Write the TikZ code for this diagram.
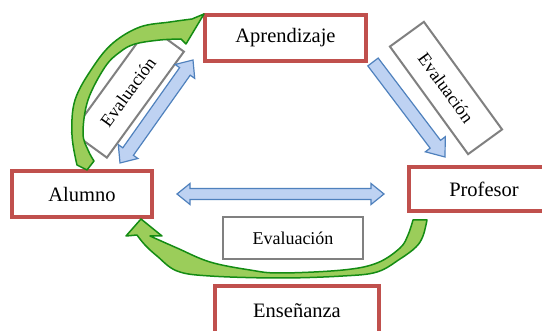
\documentclass[tikz,border=0pt]{standalone}
\usepackage{fontspec}
\setmainfont{Liberation Serif}
\newfontfamily\tnr{Liberation Serif}
\usetikzlibrary{calc}
\definecolor{boxred}{RGB}{192,80,77}
\definecolor{evgray}{RGB}{128,128,128}
\definecolor{bluefill}{RGB}{190,210,242}
\definecolor{blueline}{RGB}{79,129,189}
\definecolor{greenfill}{RGB}{155,205,90}
\definecolor{greenline}{RGB}{20,140,20}
\newcommand{\dblarrow}[5]{%
  \coordinate (nA) at ($(#1)!#5!(#2)$);
  \coordinate (nB) at ($(#2)!#5!(#1)$);
  \filldraw[bluearrow] (#1) -- ($(nA)!#4!90:(#2)$) -- ($(nA)!#3!90:(#2)$) -- ($(nB)!#3!-90:(#1)$) -- ($(nB)!#4!-90:(#1)$) -- (#2) -- ($(nB)!#4!90:(#1)$) -- ($(nB)!#3!90:(#1)$) -- ($(nA)!#3!-90:(#2)$) -- ($(nA)!#4!-90:(#2)$) -- cycle;
}
\newcommand{\sglarrow}[5]{%
  \coordinate (nB) at ($(#2)!#5!(#1)$);
  \filldraw[bluearrow] ($(#1)!#3!90:(#2)$) -- ($(nB)!#3!-90:(#1)$) -- ($(nB)!#4!-90:(#1)$) -- (#2) -- ($(nB)!#4!90:(#1)$) -- ($(nB)!#3!90:(#1)$) -- ($(#1)!#3!-90:(#2)$) -- cycle;
}
\begin{document}
\begin{tikzpicture}[x=1pt,y=-1pt,
  redbox/.style={draw=boxred, line width=3.6pt, fill=white, inner sep=0pt, font=\tnr\fontsize{20.5}{24}\selectfont},
  evbox/.style={draw=evgray, line width=2pt, fill=white, inner sep=0pt, font=\tnr\fontsize{18}{22}\selectfont},
  bluearrow/.style={fill=bluefill, draw=blueline, line width=1.2pt, line join=miter},
  greenarrow/.style={fill=greenfill, draw=greenline, line width=1.5pt, line join=round}]
\clip (0,0) rectangle (542,331);
\fill[white] (0,0) rectangle (542,331);

% gray evaluation boxes
\node[evbox, minimum width=131pt, minimum height=43pt, rotate=54] (ev1) at (128,92) {Evaluación};
\node[evbox, minimum width=133pt, minimum height=42pt, rotate=-54] (ev2) at (446,88) {Evaluación};
\node[evbox, minimum width=140pt, minimum height=42pt] (ev3) at (293,238) {Evaluación};

% red boxes
\node[redbox, minimum width=161pt, minimum height=46pt] (apr) at (285.5,38) {Aprendizaje\hspace{14pt}};
\node[redbox, minimum width=140pt, minimum height=46pt] (alu) at (82,194) {Alumno\hspace{27pt}};
\node[redbox, minimum width=150pt, minimum height=44pt] (pro) at (484,189) {Profesor\hspace{34pt}};
\node[redbox, minimum width=164pt, minimum height=50pt] (ens) at (297,311) {Enseñanza};

% blue arrows
\coordinate (b1s) at (120,163); \coordinate (b1e) at (193,60);
\dblarrow{b1s}{b1e}{6.5pt}{12pt}{14pt}
\coordinate (b2s) at (373,62); \coordinate (b2e) at (445,157);
\sglarrow{b2s}{b2e}{6.5pt}{12.5pt}{16pt}
\coordinate (b3s) at (177,194); \coordinate (b3e) at (384,194);
\dblarrow{b3s}{b3e}{5.5pt}{10.5pt}{13pt}

% green curved arrows
\filldraw[greenarrow] plot[smooth, tension=0.6] coordinates {(77,165) (72,135) (75,100) (93,67) (113,43) (140,27) (170,22) (192,19)}
  -- (204,14) -- (186,44) -- (181,39)
  -- plot[smooth, tension=0.6] coordinates {(181,39) (160,40) (135,44) (120,52) (105,67) (88,100) (83,133) (88,150) (94,161)}
  -- (87,170) -- cycle;

\filldraw[greenarrow] plot[smooth, tension=0.6] coordinates {(427,220) (423,236) (416,247) (400,259) (377,272) (343,276) (280,278) (210,276) (177,271) (157,256) (145,245) (137,235)}
  -- (126,236) -- (141,219) -- (162,236) -- (150,236)
  -- plot[smooth, tension=0.6] coordinates {(150,236) (177,248) (210,262) (250,270) (280,273) (343,270) (377,263) (400,248) (408,235) (413,220)}
  -- cycle;
\end{tikzpicture}
\end{document}
